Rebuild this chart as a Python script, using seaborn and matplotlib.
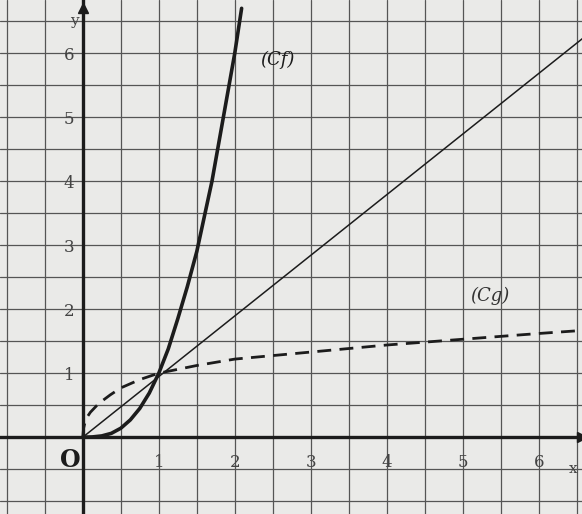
import numpy as np
import pandas as pd
import seaborn as sns
import matplotlib.pyplot as plt
from matplotlib.ticker import MultipleLocator, FixedLocator, FixedFormatter

# Values
cf_x = [0, 0.125, 0.25, 0.375, 0.5, 0.625, 0.75, 0.875, 1.0, 1.125, 1.25, 1.375,
        1.5, 1.6, 1.7, 1.85, 2.0, 2.09]
cf_y = [0, 0.004, 0.02, 0.06, 0.14, 0.27, 0.45, 0.69, 1.0, 1.38, 1.85, 2.35,
        2.9, 3.45, 4.0, 5.0, 6.0, 6.7]

cg_x = [0, 0.01, 0.03, 0.06, 0.1, 0.18, 0.27, 0.36, 0.5, 0.75, 1.0, 1.5, 2.0,
        3.0, 4.0, 5.0, 6.0, 6.6]
cg_y = [0, 0.14, 0.24, 0.32, 0.39, 0.49, 0.58, 0.66, 0.77, 0.9, 1.0, 1.12, 1.22,
        1.33, 1.44, 1.53, 1.62, 1.67]

line_x = [0, 6.6]
line_y = [0, 6.25]

tick_vals = [1, 2, 3, 4, 5, 6]
tick_labels = ["1", "2", "3", "4", "5", "6"]

sns.set_style("white")
plt.rcParams['font.family'] = ['DejaVu Serif']

paper = '#eaeae8'
ink = '#1c1c1c'

fig = plt.figure(figsize=(5.82, 5.14), dpi=100, facecolor=paper)
ax = fig.add_axes([0, 0, 1, 1])
ax.set_facecolor(paper)

df_f = pd.DataFrame({"x": cf_x, "y": cf_y})
df_g = pd.DataFrame({"x": cg_x, "y": cg_y})
df_l = pd.DataFrame({"x": line_x, "y": line_y})

sns.lineplot(data=df_l, x="x", y="y", ax=ax, color=ink, linewidth=1.1, sort=False)
sns.lineplot(data=df_g, x="x", y="y", ax=ax, color=ink, linewidth=2.0, sort=False,
             linestyle=(0, (5, 3)))
sns.lineplot(data=df_f, x="x", y="y", ax=ax, color=ink, linewidth=2.6, sort=False)

ax.set_xlim(-1.09, 6.57)
ax.set_ylim(-1.2, 6.83)

# grid every half unit
ax.xaxis.set_minor_locator(MultipleLocator(0.5))
ax.yaxis.set_minor_locator(MultipleLocator(0.5))
ax.xaxis.set_major_locator(FixedLocator(tick_vals))
ax.yaxis.set_major_locator(FixedLocator(tick_vals))
ax.xaxis.set_major_formatter(FixedFormatter(tick_labels))
ax.yaxis.set_major_formatter(FixedFormatter(tick_labels))
ax.grid(which='both', color='#555555', linewidth=0.9)
ax.set_axisbelow(True)

for s in ['top', 'right']:
    ax.spines[s].set_visible(False)
ax.spines['left'].set_position(('data', 0))
ax.spines['bottom'].set_position(('data', 0))
ax.spines['left'].set_linewidth(2.4)
ax.spines['bottom'].set_linewidth(2.4)
ax.spines['left'].set_color(ink)
ax.spines['bottom'].set_color(ink)
ax.tick_params(which='both', length=0, labelsize=12, labelcolor='#444444')
ax.tick_params(axis='x', pad=12)
ax.tick_params(axis='y', pad=6)
ax.set_xlabel("")
ax.set_ylabel("")

# arrow heads on the axes
ax.plot(1, 0, '>', color=ink, markersize=7, transform=ax.get_yaxis_transform(), clip_on=False)
ax.plot(0, 0.985, '^', color=ink, markersize=7, transform=ax.get_xaxis_transform(), clip_on=False)

ax.text(-0.17, -0.36, "O", fontsize=17, fontweight='bold', color=ink, ha='center', va='center')
ax.text(-0.05, 6.5, "y", fontsize=11, color='#444444', ha='right', va='center')
ax.text(6.45, -0.5, "x", fontsize=11, color='#444444', ha='center', va='center')
ax.text(2.33, 5.9, "(Cf)", fontsize=13, style='italic', color=ink, ha='left', va='center')
ax.text(5.1, 2.2, "(Cg)", fontsize=13, style='italic', color='#333333', ha='left', va='center')

fig.savefig("out.png", dpi=100, facecolor=paper)
